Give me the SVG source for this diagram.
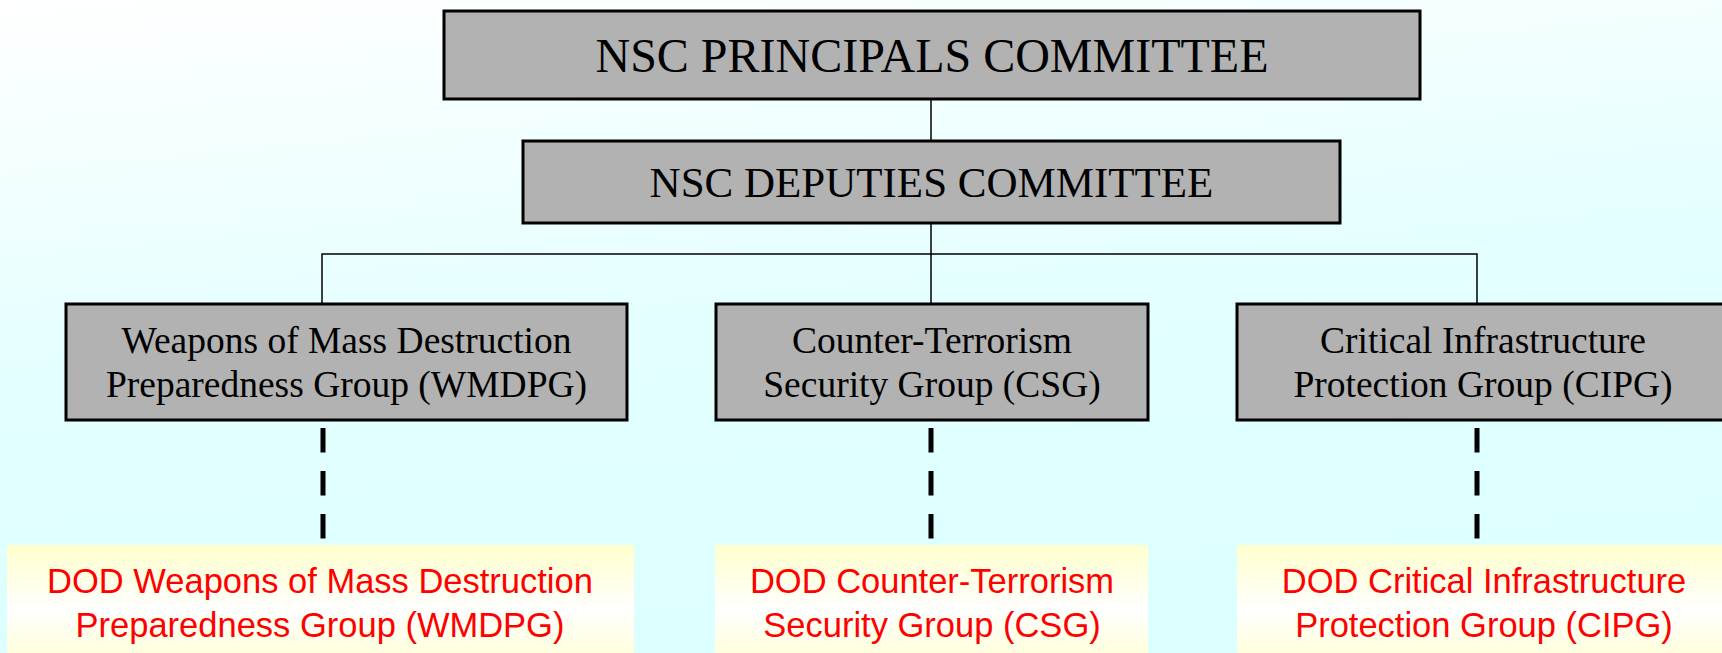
<svg xmlns="http://www.w3.org/2000/svg" width="1722" height="653" viewBox="0 0 1722 653">
<defs>
<linearGradient id="bg" x1="0" y1="0" x2="0.25" y2="1">
<stop offset="0" stop-color="#FFFFFF"/>
<stop offset="0.55" stop-color="#E4FFFF"/>
<stop offset="1" stop-color="#DCFFFF"/>
</linearGradient>
<linearGradient id="yel" x1="0" y1="0" x2="0" y2="1">
<stop offset="0" stop-color="#FFFFCC"/>
<stop offset="0.5" stop-color="#FFFFFF"/>
<stop offset="1" stop-color="#FFFFCC"/>
</linearGradient>
<style>
.gbox{fill:#B2B2B2;stroke:#000;stroke-width:3}
.ybox{fill:url(#yel);stroke:none}
.serif{font-family:"Liberation Serif","Times New Roman",serif;fill:#000;text-anchor:middle}
.sans{font-family:"Liberation Sans",Arial,sans-serif;fill:#FF0000;text-anchor:middle;font-size:34.5px}
.mid{font-size:37.5px}
.conn{stroke:#000;stroke-width:1.5;fill:none}
.dash{stroke:#000;stroke-width:5;stroke-dasharray:24.5 18.5;fill:none}
</style>
</defs>
<rect x="0" y="0" width="1722" height="653" fill="url(#bg)"/>
<g id="connectors">
<line class="conn" x1="931" y1="100" x2="931" y2="140"/>
<line class="conn" x1="931" y1="223" x2="931" y2="304"/>
<polyline class="conn" points="322,304 322,254 1477,254 1477,304"/>
<line class="dash" x1="323" y1="428" x2="323" y2="540"/>
<line class="dash" x1="931" y1="428" x2="931" y2="540"/>
<line class="dash" x1="1477" y1="428" x2="1477" y2="540"/>
</g>
<g id="principals">
<rect class="gbox" x="444" y="11" width="976" height="88"/>
<text class="serif" x="932" y="72" font-size="48">NSC PRINCIPALS COMMITTEE</text>
</g>
<g id="deputies">
<rect class="gbox" x="523" y="141" width="817" height="82"/>
<text class="serif" x="931.5" y="197" font-size="43">NSC DEPUTIES COMMITTEE</text>
</g>
<g id="wmdpg">
<rect class="gbox" x="66" y="304" width="561" height="116"/>
<text class="serif mid" x="346.5" y="353">Weapons of Mass Destruction</text>
<text class="serif mid" x="346.5" y="397">Preparedness Group (WMDPG)</text>
</g>
<g id="csg">
<rect class="gbox" x="716" y="304" width="432" height="116"/>
<text class="serif mid" x="932" y="353">Counter-Terrorism</text>
<text class="serif mid" x="932" y="397">Security Group (CSG)</text>
</g>
<g id="cipg">
<rect class="gbox" x="1237" y="304" width="492" height="116"/>
<text class="serif mid" x="1483" y="353">Critical Infrastructure</text>
<text class="serif mid" x="1483" y="397">Protection Group (CIPG)</text>
</g>
<g id="dod-wmdpg">
<rect class="ybox" x="7" y="545" width="627" height="130"/>
<text class="sans" x="320" y="592.5">DOD Weapons of Mass Destruction</text>
<text class="sans" x="320" y="636.5">Preparedness Group (WMDPG)</text>
</g>
<g id="dod-csg">
<rect class="ybox" x="715" y="545" width="433" height="130"/>
<text class="sans" x="932" y="592.5">DOD Counter-Terrorism</text>
<text class="sans" x="932" y="636.5">Security Group (CSG)</text>
</g>
<g id="dod-cipg">
<rect class="ybox" x="1237" y="545" width="492" height="130"/>
<text class="sans" x="1484" y="592.5">DOD Critical Infrastructure</text>
<text class="sans" x="1484" y="636.5">Protection Group (CIPG)</text>
</g>
</svg>
